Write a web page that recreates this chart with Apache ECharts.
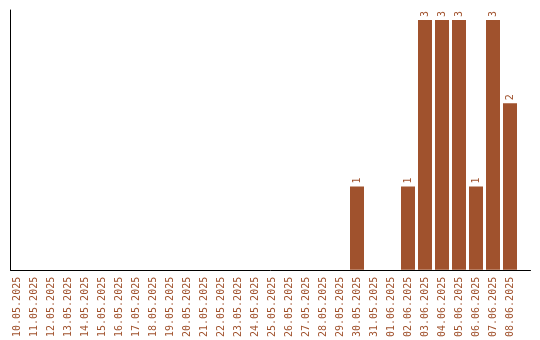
<!DOCTYPE html>
<html><head><meta charset="utf-8">
<script src="https://cdn.jsdelivr.net/npm/echarts@6/dist/echarts.min.js"></script>
<style>html,body{margin:0;padding:0;background:#fff}#c{width:540px;height:340px}</style>
</head><body><div id="c"></div>
<script>
const categories = ["10.05.2025","11.05.2025","12.05.2025","13.05.2025","14.05.2025","15.05.2025","16.05.2025","17.05.2025","18.05.2025","19.05.2025","20.05.2025","21.05.2025","22.05.2025","23.05.2025","24.05.2025","25.05.2025","26.05.2025","27.05.2025","28.05.2025","29.05.2025","30.05.2025","31.05.2025","01.06.2025","02.06.2025","03.06.2025","04.06.2025","05.06.2025","06.06.2025","07.06.2025","08.06.2025"];
const values = [0,0,0,0,0,0,0,0,0,0,0,0,0,0,0,0,0,0,0,0,1,0,0,1,3,3,3,1,3,2];

const color = '#a0522d';
const font = 'DejaVu Sans Mono';
const chart = echarts.init(document.getElementById('c'), null, {renderer:'canvas'});
chart.setOption({
  animation:false,
  grid:[
    {left:8.5, width:510, top:20, bottom:70},
    {left:10.5, right:9.5, top:10, bottom:70}
  ],
  xAxis:[
    {type:'category', data:categories, gridIndex:0,
     axisLine:{show:false}, axisTick:{show:false},
     axisLabel:{rotate:90, interval:0, color:color, fontFamily:font, fontSize:10, margin:7}},
    {type:'value', gridIndex:1, min:0, max:1, axisLine:{show:true, lineStyle:{color:'#000', width:1}},
     axisTick:{show:false}, axisLabel:{show:false}, splitLine:{show:false}}
  ],
  yAxis:[
    {type:'value', gridIndex:0, min:0, max:3, axisLine:{show:false}, axisTick:{show:false},
     axisLabel:{show:false}, splitLine:{show:false}},
    {type:'value', gridIndex:1, min:0, max:1, axisLine:{show:true, lineStyle:{color:'#000', width:1}},
     axisTick:{show:false}, axisLabel:{show:false}, splitLine:{show:false}}
  ],
  series:[{
    type:'bar', xAxisIndex:0, yAxisIndex:0, data:values, barWidth:14,
    itemStyle:{color:color},
    label:{show:true, position:'top', rotate:90, align:'left', verticalAlign:'middle', distance:3,
      color:color, fontFamily:font, fontSize:10,
      formatter:p=>p.value>0?String(p.value):''}
  }]
});
</script></body></html>
